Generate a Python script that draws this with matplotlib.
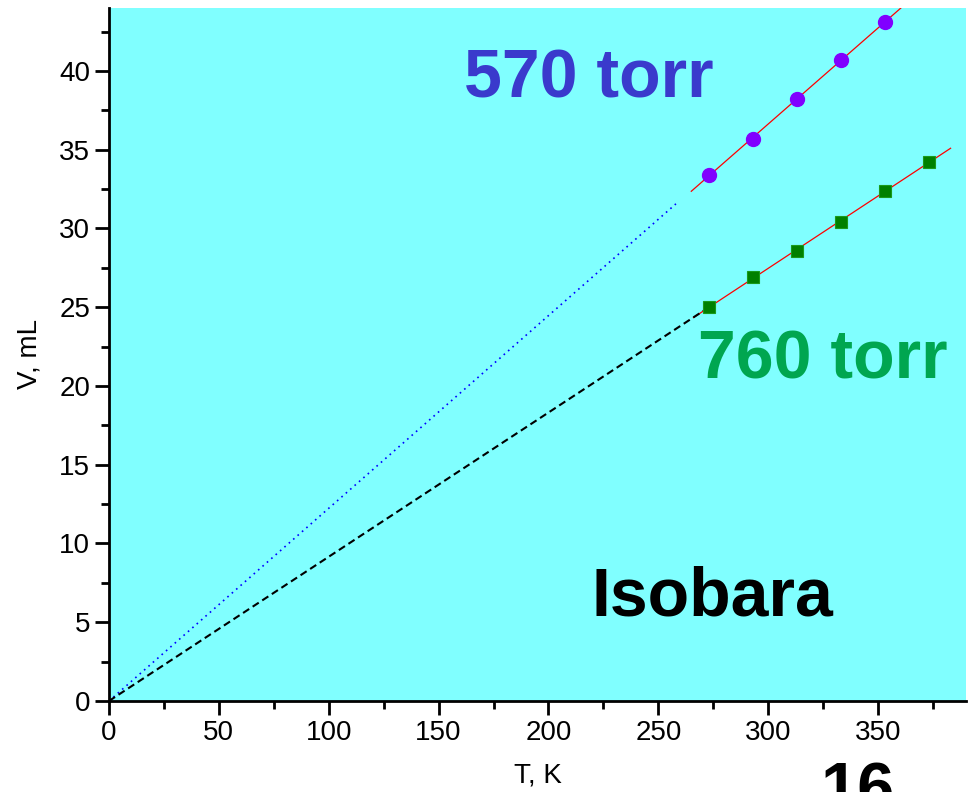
import numpy as np
import matplotlib.pyplot as plt
from matplotlib.ticker import MultipleLocator

plt.rcParams['font.family'] = ['Liberation Sans', 'DejaVu Sans']

# 570 torr data
T_570 = [273, 293, 313, 333, 353]
V_570 = [33.4, 35.7, 38.2, 40.7, 43.1]
# 760 torr data
T_760 = [273, 293, 313, 333, 353, 373]
V_760 = [25.0, 26.9, 28.6, 30.4, 32.4, 34.2]

W, H = 972, 792
fig = plt.figure(figsize=(W / 100, H / 100), dpi=100)
ax = fig.add_axes([0.1121, 0.1149, 0.8817, 0.875])
ax.set_facecolor('#80FFFF')

# linear fits (red)
p570 = np.polyfit(T_570, V_570, 1)
p760 = np.polyfit(T_760, V_760, 1)
tf1 = np.array([265, 400])
tf2 = np.array([266, 383])
ax.plot(tf1, np.polyval(p570, tf1), color='red', lw=0.9, zorder=2)
ax.plot(tf2, np.polyval(p760, tf2), color='red', lw=0.9, zorder=2)

# extrapolation to zero
k570 = V_570[0] / T_570[0]
k760 = V_760[0] / T_760[0]
te1 = np.array([0, 258])
te2 = np.array([0, 273])
ax.plot(te1, k570 * te1, color='blue', ls=(0, (1, 2.5)), lw=1.2, zorder=2)
ax.plot(te2, k760 * te2, color='black', ls=(0, (3.5, 2)), lw=1.5, zorder=2)

ax.plot(T_570, V_570, 'o', color='#8000FF', ms=10, mec='#8000FF', zorder=3)
ax.plot(T_760, V_760, 's', color='#008000', ms=9, mec='#1a9a1a', mew=0.8, zorder=3)

ax.set_xlim(0, 390)
ax.set_ylim(0, 44)
ax.xaxis.set_major_locator(MultipleLocator(50))
ax.xaxis.set_minor_locator(MultipleLocator(25))
ax.yaxis.set_major_locator(MultipleLocator(5))
ax.yaxis.set_minor_locator(MultipleLocator(2.5))
ax.spines['top'].set_visible(False)
ax.spines['right'].set_visible(False)
ax.spines['left'].set_linewidth(2)
ax.spines['bottom'].set_linewidth(2)
ax.tick_params(which='major', direction='out', length=10, width=2, labelsize=20)
ax.tick_params(which='minor', direction='out', length=6, width=2)

ax.set_xlabel('T, K', fontsize=20, labelpad=12)
ax.set_ylabel('V, mL', fontsize=20, labelpad=12)

ax.text(589 / W, 1 - 80 / H, '570 torr', transform=fig.transFigure, fontsize=49,
        fontweight='bold', color='#3a3acc', ha='center', va='center')
ax.text(823 / W, 1 - 360 / H, '760 torr', transform=fig.transFigure, fontsize=49,
        fontweight='bold', color='#00a650', ha='center', va='center')
ax.text(712 / W, 1 - 597 / H, 'Isobara', transform=fig.transFigure, fontsize=49,
        fontweight='bold', color='black', ha='center', va='center')

# page number, cut off at the bottom edge as in the slide
fig.text(858 / W, 1 - 762 / H, '16', fontsize=48, fontweight='bold', ha='center', va='top')

fig.savefig('out.png', dpi=100)
